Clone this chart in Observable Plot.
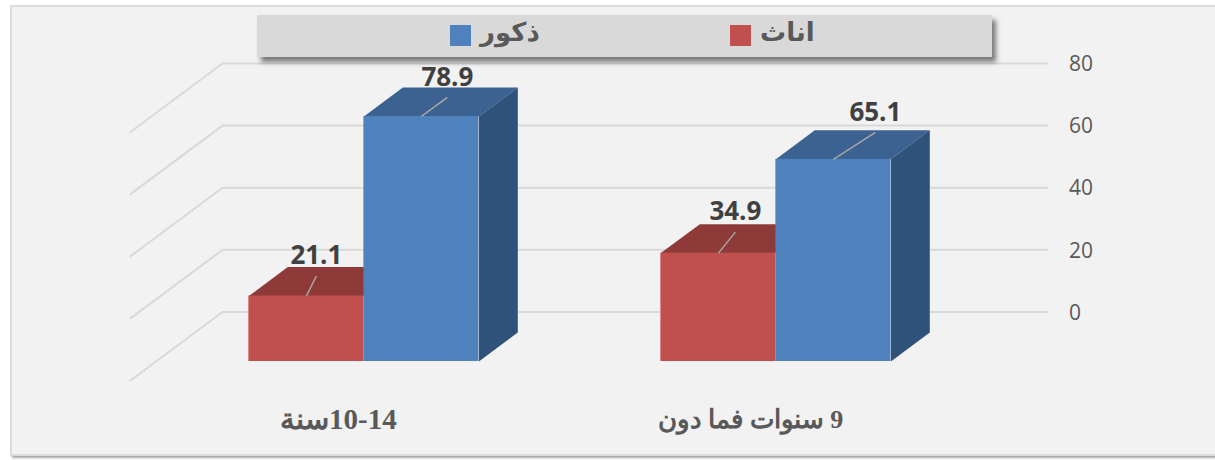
<!DOCTYPE html>
<html><head><meta charset="utf-8">
<script src="https://cdn.jsdelivr.net/npm/d3@7"></script>
<script src="https://cdn.jsdelivr.net/npm/@observablehq/plot@0.6"></script>
<style>
html,body{margin:0;padding:0;background:#fff;}
#wrap{position:relative;width:1215px;height:460px;overflow:hidden;}
#frame{position:absolute;left:10px;top:5px;width:1215px;height:451px;background:#f2f2f2;border:2px solid #dcdcdc;box-sizing:border-box;box-shadow:2px 2px 2px rgba(0,0,0,.35);}
#chart{position:absolute;left:0;top:0;}
#chart svg{background:transparent;display:block;}
#legend{position:absolute;left:257px;top:15px;width:735px;height:42px;background:#d9d9d9;box-shadow:4px 5px 5px rgba(0,0,0,.5);}
.sw{position:absolute;top:10px;width:21px;height:21px;}
.lb{position:absolute;top:0;font:bold 26px/34px "Liberation Sans","DejaVu Sans",sans-serif;color:#595959;}
</style></head>
<body><div id="wrap"><div id="frame"></div><div id="chart"></div>
<div id="legend">
<div class="sw" style="left:193px;background:#4f81bd"></div><div class="lb" id="lm" style="left:223px"></div>
<div class="sw" style="left:473px;background:#c0504d"></div><div class="lb" id="lf" style="left:503px"></div>
</div></div>
<script>
const categories = ["10-14سنة", "9 سنوات فما دون"];
const femaleValues = [21.1, 34.9];
const maleValues = [78.9, 65.1];
const femaleName = "اناث";
const maleName = "ذكور";
const tickValues = [0, 20, 40, 60, 80];
const categoryFontSizes = [29, 26];

// Leader-line offsets per label, in px: [dx, dy]
const femaleLeader = [[10, -20], [17, -21]];
const maleLeader = [[26, -19], [42, -27]];

// Oblique 3D model, expressed in scale units
const UX = 412.5, UY = 3.104;     // px per x unit and per y unit
const wallDX = 92 / UX, wallDY = 68.5 / UY;
const barW = 115 / UX;
const dFront = 0.277, dBack = 0.70;
const px = (x, d) => x + d * wallDX;            // depth d: 0 floor front, 1 wall
const py = (v, d) => v - (1 - d) * wallDY;
const groupMid = i => 0.504 + i * 412 / UX;

const bars = [];
categories.forEach((c, i) => {
  const mid = groupMid(i);
  bars.push({series: "f", x0: mid - barW, v: femaleValues[i], front: "#c0504d", top: "#8e3a38", side: "#8e3a38", leader: femaleLeader[i]});
  bars.push({series: "m", x0: mid, v: maleValues[i], front: "#4f81bd", top: "#3c6291", side: "#2f527a", leader: maleLeader[i]});
});
const faces = [];
bars.forEach((b, i) => {
  const a = b.x0, e = b.x0 + barW;
  const push = (name, color, pts) => pts.forEach(([x, d, v]) => faces.push({id: i + name, color, x: px(x, d), y: py(v, d)}));
  push("top", b.top, [[a, dFront, b.v], [e, dFront, b.v], [e, dBack, b.v], [a, dBack, b.v]]);
  if (b.series === "m") push("side", b.side, [[e, dFront, 0], [e, dBack, 0], [e, dBack, b.v], [e, dFront, b.v]]);
});
const fronts = bars.map(b => ({x1: px(b.x0, dFront), x2: px(b.x0 + barW, dFront), y1: py(0, dFront), y2: py(b.v, dFront), color: b.front}));
const leaders = bars.map(b => {
  const x1 = px(b.x0 + barW / 2, dFront), y1 = py(b.v, dFront);
  return {x1, y1, x2: x1 + b.leader[0] / UX, y2: y1 - b.leader[1] / UY, v: b.v};
});
const grid = [];
tickValues.forEach(t => {
  grid.push({t, x: 0, y: t - wallDY}, {t, x: wallDX, y: t}, {t, x: 2 + wallDX, y: t});
});

const plot = Plot.plot({
  width: 1215, height: 460,
  marginLeft: 130, marginRight: 168, marginTop: 63, marginBottom: 80,
  x: {domain: [0, 2 + wallDX], axis: null},
  y: {domain: [-wallDY, 80], axis: null},
  style: {background: "transparent", overflow: "visible"},
  marks: [
    Plot.line(grid, {x: "x", y: "y", z: "t", stroke: "#d9d9d9", strokeWidth: 2}),
    Plot.axisY(tickValues, {anchor: "right", tickSize: 0, tickPadding: 21.5, dy: 1, label: null, fontSize: 21, fontFamily: "Open Sans", fill: "#595959", tickFormat: d => String(d)}),
    Plot.line(faces, {x: "x", y: "y", z: "id", fill: "color", stroke: "none"}),
    Plot.rect(fronts, {x1: "x1", x2: "x2", y1: "y1", y2: "y2", fill: "color"}),
    Plot.link(leaders, {x1: "x1", y1: "y1", x2: "x2", y2: "y2", stroke: "#a6a6a6", strokeWidth: 1.5}),
    Plot.text(leaders, {x: "x2", y: "y2", text: d => d.v.toFixed(1), dy: -20, fontSize: 26, fontWeight: 700, fontFamily: "Open Sans", fill: "#404040"}),
    Plot.text(categories, {x: (d, i) => groupMid(i), y: () => -35, dy: -1, text: d => d, fontSize: (d, i) => categoryFontSizes[i], fontWeight: 700, fontFamily: "Liberation Serif", fill: "#595959"})
  ]
});
d3.select(plot).selectAll("text").filter(function () { return categories.includes(this.textContent); }).style("direction", "rtl");
document.getElementById("chart").appendChild(plot);
document.getElementById("lm").textContent = maleName;
document.getElementById("lf").textContent = femaleName;
</script>
</body></html>
